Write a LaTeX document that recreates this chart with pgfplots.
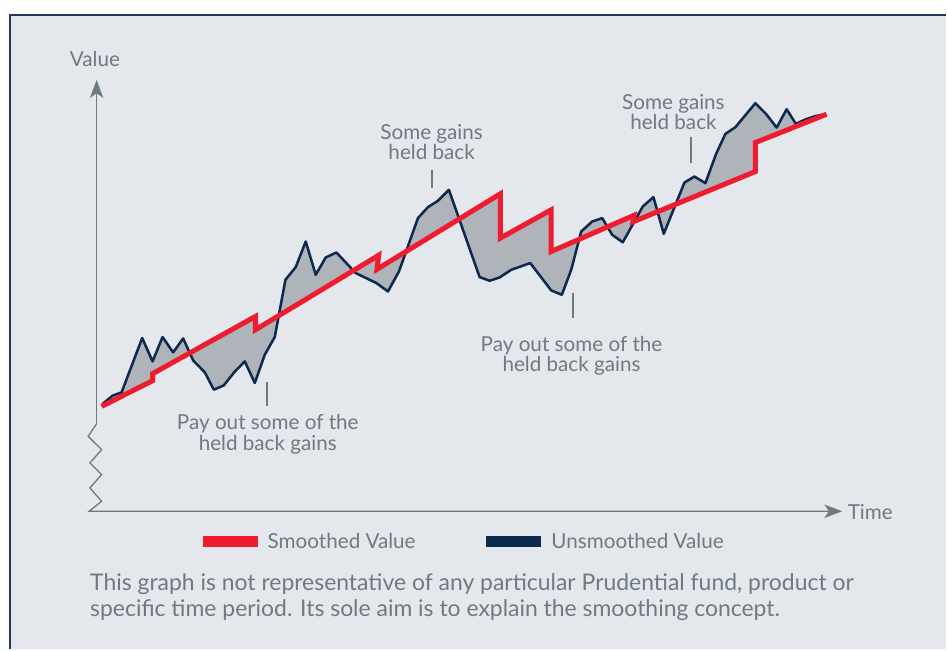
\documentclass[border=0pt]{standalone}
\usepackage{pgfplots}
\pgfplotsset{compat=1.18}
\usepackage{pgfplotstable}
\usepgfplotslibrary{fillbetween}
\usetikzlibrary{arrows.meta}
\usepackage{fontspec}
\setmainfont{Lato}
\definecolor{bgc}{HTML}{E4E7EC}
\definecolor{framec}{HTML}{1F3A5C}
\definecolor{redc}{HTML}{EE1C2E}
\definecolor{navyc}{HTML}{0B2A4E}
\definecolor{fillc}{HTML}{AEB4BA}
\definecolor{txtc}{HTML}{6E7A82}
\newcommand\tf{\fontsize{15.5pt}{18pt}\selectfont}
\newcommand\ff{\fontsize{17.2pt}{20pt}\selectfont}

% pixel coordinates: x to the right, y downward
\pgfplotstableread{
x y
103 404
112.7 396
121.7 392.7
142.3 338.3
152.7 361.7
162.7 337.3
173.3 352.7
183.3 338.7
193.3 360.7
205 372.7
214 390
224 385.7
234.3 372.7
245 361.7
255 383.3
265 355
275 337.3
285.7 280
296 267.3
306 241.7
316 275
326 257.7
336.7 252.7
356 273.3
376.7 283.3
388.3 291.7
399.3 271.7
418.3 218.3
428.3 207.3
438.3 201
449.3 190
480 277.3
490 281
500 277.7
511.7 270
530.7 263.3
551.7 290.7
562.3 295
571.7 270
581.7 231.7
592.7 221.7
602.7 218.3
612.7 235
623.3 242.5
643.3 206.7
654 197.3
664.3 234
685 182.7
695 176.7
706 183.3
716.7 154
726 134
736 127.3
756 103.3
766.7 114
777.3 127.7
787.3 109.3
796.5 124
806.7 119.3
816.7 116
826 114.5
}\unsmoothed

\pgfplotstableread{
x y
101.7 406.7
152.7 381
152.7 374
255.7 316.7
255.7 330
379 255.5
377.3 269.5
500.7 194
500.7 238.3
551.7 210
551.7 251.7
634.5 215.5
633.5 222
756 171.7
756 142.7
827.3 114.3
}\smoothed

\begin{document}
\begin{tikzpicture}
\begin{axis}[set layers,
  width=710.25pt, height=487.5pt, scale only axis,
  xmin=0, xmax=947, ymin=0, ymax=650, y dir=reverse,
  hide axis, clip=false,
  reverse legend,
  legend columns=2,
  legend style={draw=none, fill=none, at={(axis cs:197,542)}, anchor=west,
    inner sep=0pt, font=\tf, text=txtc,
    nodes={inner sep=0pt},
    /tikz/every even column/.append style={column sep=49pt},
    /tikz/every odd column/.append style={column sep=3.5pt}},
  legend image code/.code={\draw[line width=8.25pt, line cap=butt] (0pt,0pt) -- (41.25pt,0pt);},
]
\begin{pgfonlayer}{axis background}
\fill[white] (axis cs:0,0) rectangle (axis cs:947,650);
\fill[bgc] (axis cs:10,15) rectangle (axis cs:947,650);
\draw[framec, line width=1.2pt] (axis cs:10,650) -- (axis cs:10,15) -- (axis cs:947,15);
\end{pgfonlayer}

% axes
\draw[txtc, line width=1pt, -{Stealth[length=13.5pt, width=10pt, inset=3.5pt]}]
  (axis cs:96.7,424) -- (axis cs:96.7,80);
\draw[txtc, line width=1pt, line join=miter, -{Stealth[length=13.5pt, width=10pt, inset=3.5pt]}]
  (axis cs:96.7,424) -- (axis cs:88.3,436.7) -- (axis cs:101.7,450) -- (axis cs:90,463.3)
  -- (axis cs:101.7,475) -- (axis cs:90,488.3) -- (axis cs:101.7,501.7) -- (axis cs:89.3,511.7)
  -- (axis cs:843,511.7);
\node[anchor=base, inner sep=0pt, text=txtc, font=\tf] at (axis cs:95,67) {Value};
\node[anchor=base, inner sep=0pt, text=txtc, font=\tf] at (axis cs:871,519.5) {Time};

% data
\addplot[name path=navy, draw=navyc, line width=1.9pt, line join=round] table {\unsmoothed};
\addlegendentry{Unsmoothed Value}
\addplot[name path=red, draw=redc, line width=3.75pt, line join=miter] table {\smoothed};
\addlegendentry{Smoothed Value}
\addplot[fillc, forget plot] fill between[of=navy and red];

% annotations
\draw[txtc, line width=1.5pt] (axis cs:267.3,382) -- (axis cs:267.3,406);
\node[anchor=base, inner sep=0pt, text=txtc, font=\tf] at (axis cs:268,430) {Pay out some of the};
\node[anchor=base, inner sep=0pt, text=txtc, font=\tf] at (axis cs:268,450.5) {held back gains};

\draw[txtc, line width=1.5pt] (axis cs:432.7,170) -- (axis cs:432.7,188);
\node[anchor=base, inner sep=0pt, text=txtc, font=\tf] at (axis cs:432,139.5) {Some gains};
\node[anchor=base, inner sep=0pt, text=txtc, font=\tf] at (axis cs:432,160) {held back};

\draw[txtc, line width=1.5pt] (axis cs:573.3,293) -- (axis cs:573.3,318);
\node[anchor=base, inner sep=0pt, text=txtc, font=\tf] at (axis cs:572,351.5) {Pay out some of the};
\node[anchor=base, inner sep=0pt, text=txtc, font=\tf] at (axis cs:572,372) {held back gains};

\draw[txtc, line width=1.5pt] (axis cs:691.7,137) -- (axis cs:691.7,163);
\node[anchor=base, inner sep=0pt, text=txtc, font=\tf] at (axis cs:674,109.5) {Some gains};
\node[anchor=base, inner sep=0pt, text=txtc, font=\tf] at (axis cs:674,130) {held back};

% footnote
\node[anchor=base west, inner sep=0pt, text=txtc, font=\ff] at (axis cs:90,591) {This graph is not representative of any particular Prudential fund, product or};
\node[anchor=base west, inner sep=0pt, text=txtc, font=\ff] at (axis cs:90,617.5) {specific time period. Its sole aim is to explain the smoothing concept.};
\end{axis}
\end{tikzpicture}
\end{document}
